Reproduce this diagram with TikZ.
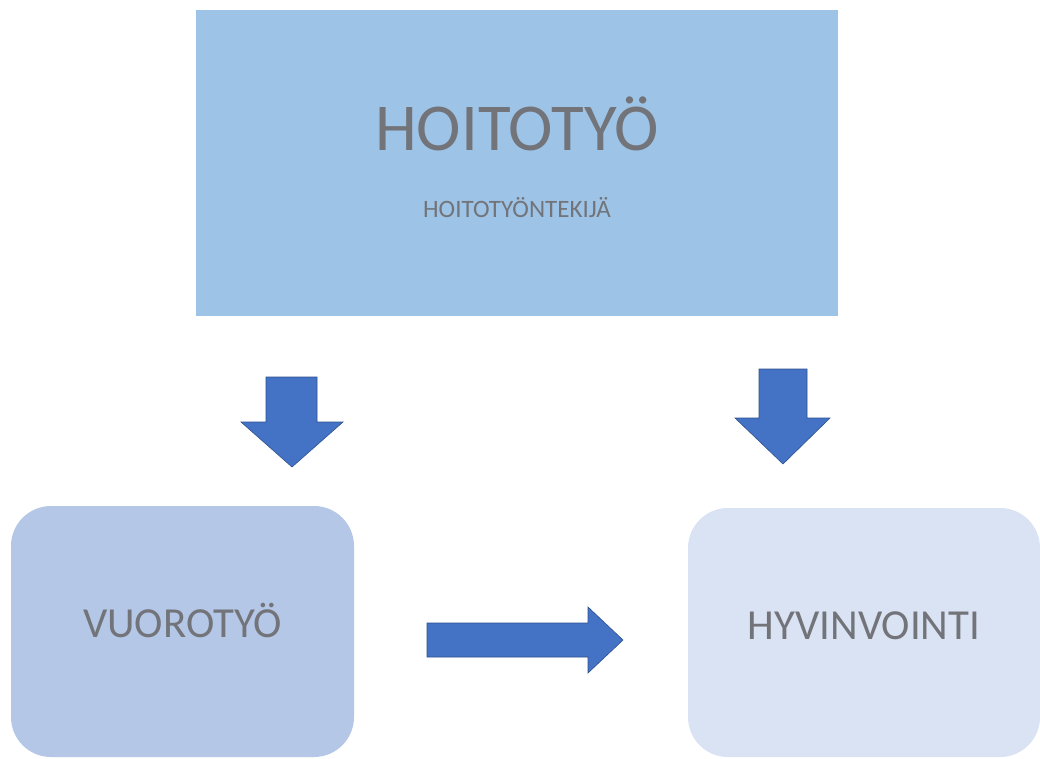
\documentclass[tikz,border=0pt]{standalone}
\usepackage{fontspec}
\setmainfont{Carlito}
\definecolor{topfill}{HTML}{9DC3E6}
\definecolor{leftfill}{HTML}{B4C7E7}
\definecolor{rightfill}{HTML}{DAE3F3}
\definecolor{arrfill}{HTML}{4472C4}
\definecolor{arrline}{HTML}{2F528F}
\definecolor{txt}{HTML}{727479}
\begin{document}
\begin{tikzpicture}[x=1pt,y=-1pt,
  box/.style={inner sep=0pt, outer sep=0pt, draw=none},
  label/.style={anchor=base, text=txt, inner sep=0pt},
  blockarrow/.style={fill=arrfill, draw=arrline, line width=0.6pt, line join=miter}]
\useasboundingbox[fill=white] (0,0) rectangle (1040,758);
% boxes
\node[box, fill=topfill, minimum width=642pt, minimum height=306pt] (top) at (517,163) {};
\node[box, fill=leftfill, rounded corners=40pt, minimum width=343pt, minimum height=251pt] (vuoro) at (182.5,631.5) {};
\node[box, fill=rightfill, rounded corners=40pt, minimum width=352pt, minimum height=249pt] (hyvin) at (864,632.5) {};
% texts
\node[label, font=\fontsize{67}{67}\selectfont] (t1) at (517,150) {HOITOTYÖ};
\node[label, font=\fontsize{25}{25}\selectfont] (t2) at (517,217) {HOITOTYÖNTEKIJÄ};
\node[label, font=\fontsize{42.8}{42.8}\selectfont] (t3) at (182.5,637) {VUOROTYÖ};
\node[label, font=\fontsize{42.8}{42.8}\selectfont] (t4) at (864,639) {HYVINVOINTI};
% block arrows
\draw[blockarrow] (266,377) -- (317,377) -- (317,422) -- (343,422) -- (292,467) -- (241,422) -- (266,422) -- cycle;
\draw[blockarrow] (759,369) -- (807,369) -- (807,418) -- (830,418) -- (783,464) -- (735,418) -- (759,418) -- cycle;
\draw[blockarrow] (427,623) -- (588,623) -- (588,607) -- (623,640) -- (588,673) -- (588,657) -- (427,657) -- cycle;
\end{tikzpicture}
\end{document}
